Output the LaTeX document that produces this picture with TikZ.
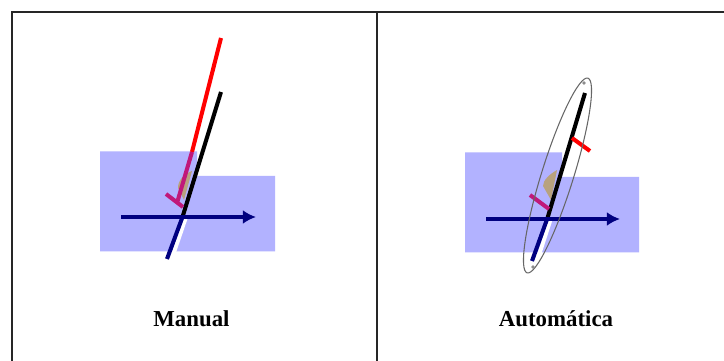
\documentclass[tikz,border=0pt]{standalone}
\usepackage{fontspec}
\setmainfont{Liberation Serif}
\usetikzlibrary{arrows.meta,positioning}
\definecolor{planeblue}{HTML}{B2B2FF}
\definecolor{axisnavy}{HTML}{000080}
\definecolor{tickmag}{HTML}{C0187A}
\definecolor{blobtan}{HTML}{B8A27E}
\tikzset{
  plane/.style={fill=planeblue,draw=none},
  axisline/.style={-{Latex[length=7.5pt,width=8pt]},axisnavy,line width=2pt},
  needle/.style={line width=2.3pt},
  tick/.style={line width=2.3pt},
  blob/.style={fill=blobtan,draw=none},
  caption/.style={font=\fontsize{13}{15}\selectfont\bfseries}
}
\begin{document}
\begin{tikzpicture}[x=.02cm,y=-.02cm, >=Latex]
    \useasboundingbox (0,0) rectangle (724,361);
    \fill[white] (0,0) rectangle (724,361);
    % frame
    \draw[black!85,line width=1.1pt] (12,361) -- (12,12) -- (724,12);
    \draw[black!85,line width=1.1pt] (377,12) -- (377,361);
    % planes
    \foreach \x/\y/\w in {100/151.5/175,465/152.5/174} {
      \fill[plane] (\x,\y) -- ++(97,0) -- ++(0,24.5) -- (\x+\w,\y+24.5) -- (\x+\w,\y+100) -- (\x,\y+100) -- cycle;
    }
    % manual
    \fill[blob] (192,171) .. controls (184,174) and (178,180) .. (178,188) -- (184,200) -- cycle;
    \draw[needle,white] (186,217) -- (172,258);
    \draw[needle,black] (221,92) -- (182.5,217);
    \draw[needle,axisnavy] (182.5,217) -- (167,259);
    \draw[needle,red] (221,38) -- (192,152);
    \draw[needle,tickmag] (192,152) -- (177,203);
    \draw[tick,tickmag] (166,194) -- (183,207);
    \draw[axisline] (121,217) -- (256,217);
    % automatica
    \fill[blob] (557,170) .. controls (550,174) and (543,180) .. (543,186) -- (551,200) -- cycle;
    \draw[needle,white] (551,218) -- (537,261);
    \draw[needle,black] (585,93) -- (547.5,218);
    \draw[needle,axisnavy] (547.5,218) -- (532,261);
    \draw[tick,red] (572,138) -- (590,151);
    \draw[tick,tickmag] (530,195) -- (549,209);
    \draw[axisline] (486,219) -- (620,219);
    \draw[black!60,line width=.6pt,rotate around={-17.35:(557.5,175.5)}] (557.5,175.5) ellipse [x radius=16,y radius=102];
    \fill[black!45] (584,83) circle (1.8) (533,267) circle (1.8);
    % labels
    \node[caption] (manual) at (191.5,319) {Manual};
    \node[caption] (automatica) at (556,319) {Automática};
  \end{tikzpicture}
\end{document}
